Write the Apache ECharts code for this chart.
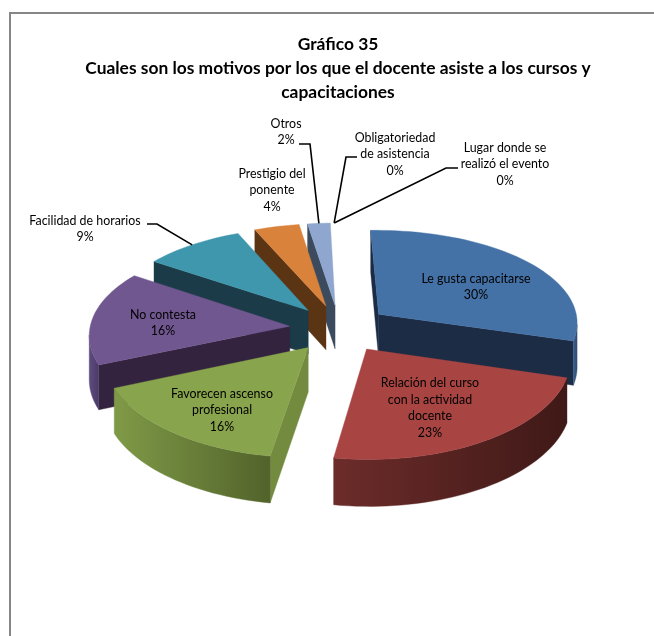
<!DOCTYPE html>
<html>
<head>
<meta charset="utf-8">
<style>html,body{margin:0;padding:0;background:#fff}#chart{width:654px;height:636px}</style>
<script src="https://cdn.jsdelivr.net/npm/echarts@6/dist/echarts.min.js"></script>
</head>
<body>
<div id="chart"></div>
<script>
// Survey answers, in clockwise order from the top of the pie
const categories = [
  'Le gusta capacitarse',
  'Relación del curso\ncon la actividad\ndocente',
  'Favorecen ascenso\nprofesional',
  'No contesta',
  'Facilidad de horarios',
  'Prestigio del\nponente',
  'Otros',
  'Obligatoriedad\nde asistencia',
  'Lugar donde se\nrealizó el evento'
];
const percentages = [30, 23, 16, 16, 9, 4, 2, 0, 0];
const chartTitle = 'Gráfico 35\nCuales son los motivos por los que el docente asiste a los cursos y\ncapacitaciones';

// Slice paint: top face, radial walls, outer wall gradient (left to right)
const topColors   = ['#4471A6', '#A84543', '#88A44C', '#71578F', '#3F97AE', '#D9823B', '#8FA6CF', '#999', '#999'];
const startWalls  = ['#1B2C44', '#421B19', '#728B3F', '#33233F', '#1A3B47', '#5B3414', '#3C4A5E', '#333', '#333'];
const endWalls    = ['#1B2C44', '#5A2625', '#556B2E', '#33233F', '#1A3B47', '#5B3414', '#3C4A5E', '#333', '#333'];
const outerLeft   = ['#3A5F8C', '#6C2C2A', '#7F9A47', '#5E4C80', '#34808F', '#B86E30', '#7C90B4', '#888', '#888'];
const outerRight  = ['#2E4C70', '#3F1917', '#52632B', '#4A3A66', '#28626E', '#8E5525', '#5E6E8A', '#666', '#666'];

// Label centres and leader elbows, in pixels
const labelCentres = [
  [476, 287], [430, 408], [222, 410], [163, 323], [85, 229],
  [272, 190], [286, 132], [395, 154], [505, 164]
];
const leaderPaths = [
  null, null, null, null,
  [[147, 224], [157, 224]],
  null,
  [[299, 144], [310, 144]],
  [[357, 157], [346, 157]],
  [[458, 168], [446, 168]]
];
const leaderNudge = [null, null, null, null, [0, 0], null, [0, 0], [1, 0], [1, 0]];

// Projection of the tilted, exploded pie
const view = {cx: 339.5, cy: 328.5, rx: 200, ry: 95, depth: 44, perspX: 0.08, perspY: 0.10, explode: 0.25, rot: -1.6};

function project(X, Y, drop) {
  const sx = 1 / (1 - view.perspX * Y);
  const sy = 1 / (1 - view.perspY * Y);
  return [
    view.cx + view.rx * X * sx,
    view.cy + view.ry * Y * sy + (drop ? view.depth * Math.sqrt(sy) : 0)
  ];
}
const total = percentages.reduce((a, b) => a + b, 0);
const slices = [];
let running = 0;
percentages.forEach((p) => {
  const a0 = (running / total) * 2 * Math.PI + view.rot * Math.PI / 180;
  running += p;
  const a1 = (running / total) * 2 * Math.PI + view.rot * Math.PI / 180;
  const mid = (a0 + a1) / 2;
  slices.push({a0, a1, mid, ox: Math.sin(mid) * view.explode, oy: -Math.cos(mid) * view.explode});
});
// Back slices are painted first
const order = slices.map((s, i) => i).sort((a, b) => slices[a].oy - slices[b].oy);
const rank = [];
order.forEach((idx, r) => { rank[idx] = r; });

function rim(sl, ang, drop) {
  return project(sl.ox + Math.sin(ang), sl.oy - Math.cos(ang), drop);
}

// An extruded edge faces the viewer when the slice interior lies above it on screen
function edgeFaces(a, b, inner) {
  const dx = b[0] - a[0], dy = b[1] - a[1];
  const side = -dy * (inner[0] - a[0]) + dx * (inner[1] - a[1]);
  return side * dx < 0;
}

function poly(points, fill, z2) {
  return {type: 'polygon', shape: {points}, style: {fill, stroke: fill, lineWidth: 0.4}, z2, silent: true};
}

function renderSlice(params, api) {
  const i = api.value(0);
  const v = api.value(1);
  const sl = slices[i];
  const children = [];
  const base = rank[i] * 10;
  if (v > 0) {
    const steps = Math.max(4, Math.ceil((sl.a1 - sl.a0) / (Math.PI / 90)));
    const arcTop = [], arcLow = [];
    for (let k = 0; k <= steps; k++) {
      const t = sl.a0 + (sl.a1 - sl.a0) * k / steps;
      arcTop.push(rim(sl, t, false));
      arcLow.push(rim(sl, t, true));
    }
    const apexTop = project(sl.ox, sl.oy, false);
    const apexLow = project(sl.ox, sl.oy, true);
    const inner = rim(sl, sl.mid, false).map((c, n) => (c + apexTop[n]) / 2);
    if (edgeFaces(apexTop, arcTop[0], inner)) {
      children.push(poly([apexTop, arcTop[0], arcLow[0], apexLow], startWalls[i], base + 1));
    }
    if (edgeFaces(apexTop, arcTop[steps], inner)) {
      children.push(poly([apexTop, arcTop[steps], arcLow[steps], apexLow], endWalls[i], base + 1));
    }
    // Only the front-facing run of the rim gets an outer wall
    const runTop = [], runLow = [];
    for (let k = 0; k < steps; k++) {
      if (edgeFaces(arcTop[k], arcTop[k + 1], inner)) {
        if (!runTop.length) { runTop.push(arcTop[k]); runLow.push(arcLow[k]); }
        runTop.push(arcTop[k + 1]);
        runLow.push(arcLow[k + 1]);
      }
    }
    if (runTop.length) {
      children.push(poly(runTop.concat(runLow.reverse()), {
        type: 'linear', x: 0, y: 0, x2: 1, y2: 0,
        colorStops: [{offset: 0, color: outerLeft[i]}, {offset: 1, color: outerRight[i]}]
      }, base + 2));
    }
    children.push(poly([apexTop].concat(arcTop), topColors[i], base + 3));
  }
  if (leaderPaths[i]) {
    const m = rim(sl, sl.mid, false);
    const n = leaderNudge[i];
    children.push({
      type: 'polyline',
      shape: {points: leaderPaths[i].concat([[m[0] + n[0], m[1] + n[1]]])},
      style: {stroke: '#000', lineWidth: 1.6, fill: null},
      z2: 900, silent: true
    });
  }
  children.push({
    type: 'text', z2: 1000, silent: true,
    style: {
      text: categories[i] + '\n' + v + '%',
      x: labelCentres[i][0], y: labelCentres[i][1],
      align: 'center', verticalAlign: 'middle',
      fontFamily: 'Lato', fontSize: 12.4, lineHeight: 16.5, fill: '#000'
    }
  });
  return {type: 'group', children};
}

const chart = echarts.init(document.getElementById('chart'), null, {renderer: 'canvas'});
chart.setOption({
  animation: false,
  backgroundColor: '#fff',
  title: {
    text: chartTitle,
    left: 333, top: 27, textAlign: 'center',
    textStyle: {fontFamily: 'Lato', fontWeight: 'bold', fontSize: 17.4, lineHeight: 24, color: '#000'}
  },
  graphic: [{
    type: 'rect', silent: true,
    shape: {x: 10, y: 13, width: 800, height: 800},
    style: {fill: 'none', stroke: '#868686', lineWidth: 2}
  }],
  series: [{
    type: 'custom',
    coordinateSystem: 'none',
    renderItem: renderSlice,
    data: percentages.map((p, i) => ({name: categories[i], value: [i, p]}))
  }]
});
</script>
</body>
</html>
